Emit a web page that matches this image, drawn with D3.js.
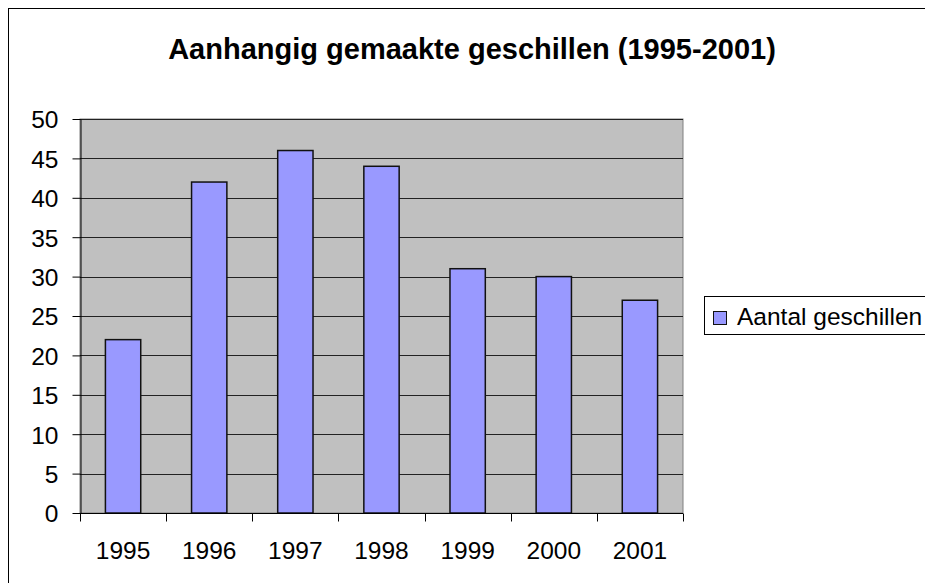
<!DOCTYPE html>
<html>
<head>
<meta charset="utf-8">
<script src="https://cdn.jsdelivr.net/npm/d3@7"></script>
<style>
  body { margin: 0; background: white; }
</style>
</head>
<body>
<script>
// chart data
var years = ["1995", "1996", "1997", "1998", "1999", "2000", "2001"];
var geschillen = [22, 42, 46, 44, 31, 30, 27];
var yTicks = [0, 5, 10, 15, 20, 25, 30, 35, 40, 45, 50];
var titel = "Aanhangig gemaakte geschillen (1995-2001)";
var reeksNaam = "Aantal geschillen";

var bar_col = "#9999ff",
    plot_bg = "#c0c0c0",
    font = '"Liberation Sans", Arial, sans-serif',
    label_size = "24.5px";

var W = 925, H = 583;
var plot = { left: 80, top: 119, right: 683, bottom: 513 };

var svg = d3.select("body")
    .append("svg")
    .attr("width", W)
    .attr("height", H);

// outer chart border (right/bottom fall outside the picture)
svg.append("rect")
    .attr("x", 8.5).attr("y", 8.5)
    .attr("width", W + 20).attr("height", H + 20)
    .attr("fill", "white")
    .attr("stroke", "black")
    .attr("stroke-width", 1);

var x = d3.scaleBand()
    .domain(years)
    .range([plot.left, plot.right])
    .paddingInner(0.59)
    .paddingOuter(0.295);

var xCat = d3.scaleBand()
    .domain(years)
    .range([plot.left, plot.right]);

var y = d3.scaleLinear()
    .domain([0, 50])
    .range([plot.bottom, plot.top]);

// plot area
svg.append("rect")
    .attr("x", plot.left).attr("y", plot.top)
    .attr("width", plot.right - plot.left)
    .attr("height", plot.bottom - plot.top)
    .attr("fill", plot_bg)
    .attr("stroke", "#808080")
    .attr("stroke-width", 1);

// gridlines
svg.append("g")
    .selectAll("line")
    .data(yTicks.filter(function(d) { return d > 0; }))
    .join("line")
    .attr("x1", plot.left).attr("x2", plot.right)
    .attr("y1", function(d) { return Math.round(y(d)) + 0.5; })
    .attr("y2", function(d) { return Math.round(y(d)) + 0.5; })
    .attr("stroke", "#222")
    .attr("stroke-width", 1);

// bars
svg.append("g")
    .selectAll("rect")
    .data(years)
    .join("rect")
    .attr("x", function(d) { return x(d); })
    .attr("y", function(d, i) { return y(geschillen[i]); })
    .attr("width", x.bandwidth())
    .attr("height", function(d, i) { return y(0) - y(geschillen[i]); })
    .attr("fill", bar_col)
    .attr("stroke", "#111")
    .attr("stroke-width", 1.5);

// y axis
var yAxis = svg.append("g")
    .attr("transform", "translate(" + (plot.left + 0.5) + ",0)")
    .call(d3.axisLeft(y).tickValues(yTicks).tickSize(8).tickPadding(14).tickSizeOuter(0));

yAxis.select(".domain").attr("stroke", "black");
yAxis.selectAll(".tick line").attr("stroke", "black");
yAxis.selectAll(".tick text")
    .attr("font-family", font)
    .attr("font-size", label_size)
    .attr("fill", "black")
    .attr("dy", "0.36em");

// x axis (ticks between categories)
var xAxisG = svg.append("g")
    .attr("transform", "translate(0," + (plot.bottom + 0.5) + ")");

xAxisG.append("line")
    .attr("x1", plot.left).attr("x2", plot.right)
    .attr("stroke", "black");

xAxisG.selectAll("line.tk")
    .data(years.concat(["end"]))
    .join("line")
    .attr("class", "tk")
    .attr("x1", function(d, i) { return Math.round(i < years.length ? xCat(d) : plot.right) + 0.5; })
    .attr("x2", function(d, i) { return Math.round(i < years.length ? xCat(d) : plot.right) + 0.5; })
    .attr("y1", 0).attr("y2", 8)
    .attr("stroke", "black");

xAxisG.selectAll("text")
    .data(years)
    .join("text")
    .text(function(d) { return d; })
    .attr("x", function(d) { return xCat(d) + xCat.bandwidth() / 2; })
    .attr("y", 45)
    .attr("text-anchor", "middle")
    .attr("font-family", font)
    .attr("font-size", label_size)
    .attr("fill", "black");

// title
svg.append("text")
    .text(titel)
    .attr("x", 472)
    .attr("y", 59)
    .attr("text-anchor", "middle")
    .attr("font-family", font)
    .attr("font-weight", "bold")
    .attr("font-size", "29px")
    .attr("fill", "black");

// legend
var leg = svg.append("g");
leg.append("rect")
    .attr("x", 704.5).attr("y", 296.5)
    .attr("width", 260).attr("height", 38)
    .attr("fill", "white")
    .attr("stroke", "black");
leg.append("rect")
    .attr("x", 713.5).attr("y", 311.5)
    .attr("width", 13).attr("height", 13)
    .attr("fill", bar_col)
    .attr("stroke", "#111")
    .attr("stroke-width", 1);
leg.append("text")
    .text(reeksNaam)
    .attr("x", 737)
    .attr("y", 325)
    .attr("font-family", font)
    .attr("font-size", label_size)
    .attr("fill", "black");
</script>
</body>
</html>
